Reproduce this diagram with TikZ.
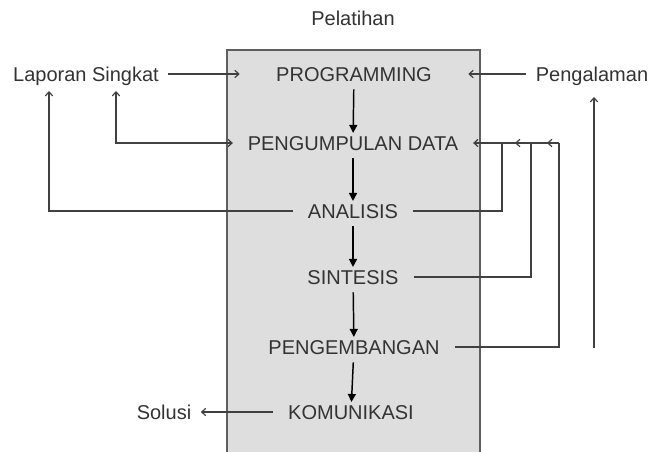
\documentclass[tikz,border=0pt]{standalone}
\usepackage{fontspec}
\setmainfont{Liberation Sans}
\usetikzlibrary{arrows.meta,positioning}
\definecolor{ink}{RGB}{51,51,51}
\definecolor{wire}{RGB}{64,64,64}
\definecolor{panel}{RGB}{222,222,222}
\definecolor{frame}{RGB}{95,95,95}

\begin{document}
\begin{tikzpicture}[x=0.75pt, y=-0.75pt,
  lbl/.style={font=\fontsize{15}{18}\selectfont, text=ink,
              text height=10.7pt, text depth=0pt, inner ysep=2pt, inner xsep=7pt},
  stage/.style={lbl, inner xsep=11pt},
  wide/.style={stage, minimum width=171pt},
  flow/.style={-{Triangle[length=6pt,width=6pt]}, black, line width=1.1pt, shorten <=4pt},
  lnk/.style={wire, line width=0.9pt},
  tip/.style={-{Straight Barb[length=3pt,width=5.5pt]}}
]
\useasboundingbox (0,0) rectangle (654,451);

% ── Panel ─────────────────────────────
\fill[panel] (227,50) rectangle (480,460);
\draw[frame, line width=1.5pt] (227,460) -- (227,50) -- (480,50) -- (480,460);
\node[lbl] (pelatihan) at (353,18) {Pelatihan};

% ── Stages ────────────────────────────
\node[wide]  (prog)       at (354,74)  {PROGRAMMING};
\node[wide]  (data)       at (353,143) {PENGUMPULAN DATA};
\node[stage] (analisis)   at (353,211) {ANALISIS};
\node[stage] (sintesis)   at (353,277) {SINTESIS};
\node[stage] (kembang)    at (354,347) {PENGEMBANGAN};
\node[stage] (komunikasi) at (351,412) {KOMUNIKASI};

% ── Outside labels ────────────────────
\node[lbl] (laporan)    at (86,74)   {Laporan Singkat};
\node[lbl] (pengalaman) at (592,74)  {Pengalaman};
\node[lbl] (solusi)     at (164,412) {Solusi};

\coordinate (lapA) at (116,91);
\coordinate (lapB) at (49,91);
\coordinate (pgA)  at (594,97);
\coordinate (pgB)  at (594,348);
\coordinate (j1)   at (502,143);
\coordinate (j2)   at (531,143);
\coordinate (j3)   at (559,143);

% ── Main flow ─────────────────────────
\foreach \a/\b in {prog/data, data/analisis, analisis/sintesis,
                   sintesis/kembang, kembang/komunikasi} {
  \draw[flow] (\a) -- (\b);
}

% ── Inputs and outputs ────────────────
\draw[lnk, tip] (laporan) -- (prog);
\draw[lnk, tip] (pengalaman) -- (prog);
\draw[lnk, tip] (komunikasi) -- (solusi);
\draw[lnk, {Straight Barb[length=3pt,width=5.5pt]}-{Straight Barb[length=3pt,width=5.5pt]}]
  (lapA) |- (data.west);
\draw[lnk, tip] (analisis.west) -| (lapB);
\draw[lnk, tip] (pgB) -- (pgA);

% ── Feedback to data ──────────────────
\draw[lnk] (analisis.east) -| (j1);
\draw[lnk] (sintesis.east) -| (j2);
\draw[lnk] (kembang.east) -| (j3);
\draw[lnk, tip] (j3) -- (data.east);
\draw[lnk, tip] (j3) -- ++(-12,0);
\draw[lnk, tip] (j2) -- ++(-16,0);

\end{tikzpicture}
\end{document}
